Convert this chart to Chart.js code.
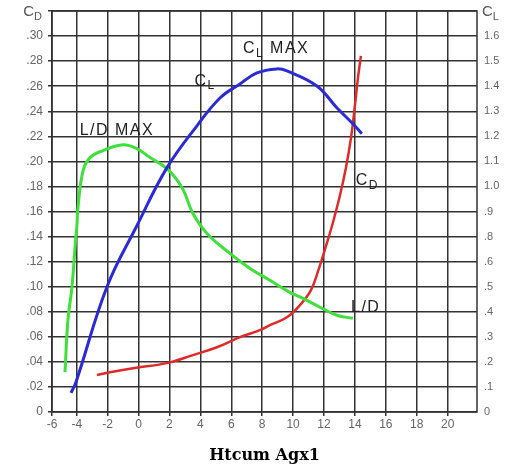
<!DOCTYPE html>
<html>
<head>
<meta charset="utf-8">
<script src="https://cdn.jsdelivr.net/npm/chart.js@4"></script>
<style>
html,body{margin:0;padding:0;background:#fff;}
#wrap{position:relative;width:505px;height:469px;}
</style>
</head>
<body>
<div id="wrap"><canvas id="c" width="505" height="469"></canvas></div>
<script>
// ---- Data ----
// angle of attack (degrees)
const X_MIN = -5.6, X_MAX = 21.9;
const X_TICK_VALUES = [-4,-2,0,2,4,6,8,10,12,14,16,18,20];
const X_TICK_LABELS = ['-6','-4','-2','0','2','4','6','8','10','12','14','16','18','20'];

// left axis (C_D)
const LEFT_TICK_LABELS = ['0','.02','.04','.06','.08','.10','.12','.14','.16','.18','.20','.22','.24','.26','.28','.30'];
// right axis (C_L) labels as printed (note: .7 is not printed)
const RIGHT_TICK_LABELS = ['0','.1','.2','.3','.4','.5','.6','.8','.9','1.0','1.1','1.2','1.3','1.4','1.5','1.6'];
const RIGHT_TICK_VALUES = [0,0.1,0.2,0.3,0.4,0.5,0.6,0.8,0.9,1.0,1.1,1.2,1.3,1.4,1.5,1.6];

// Lift coefficient curve (right axis)
const CL_ALPHA = [-4.37,-4.05,-2.04,-0.10,1.84,3.78,5.27,6.56,7.66,8.95,9.60,11.54,12.83,13.87,14.45];
const CL_VALUES = [0.076,0.119,0.500,0.844,1.075,1.242,1.353,1.409,1.453,1.469,1.461,1.401,1.314,1.250,1.210];

// Lift/Drag ratio curve (drawn against left grid)
const LD_ALPHA = [-4.76,-4.57,-4.31,-4.11,-3.98,-3.92,-3.59,-3.14,-2.30,-1.01,-0.10,0.74,1.84,2.81,3.52,4.43,5.91,7.21,8.50,9.79,10.64,11.74,12.83,13.87];
const LD_VALUES = [0.0318,0.0732,0.0995,0.1313,0.1504,0.1632,0.1926,0.2030,0.2086,0.2133,0.2101,0.2030,0.1942,0.1791,0.1584,0.1425,0.1266,0.1146,0.1051,0.0955,0.0907,0.0836,0.0772,0.0748];

// Drag coefficient curve (left axis)
const CD_ALPHA = [-2.69,-1.85,-0.36,1.84,3.52,5.07,6.56,7.85,8.50,9.60,10.44,11.15,11.61,12.12,12.58,13.03,13.42,13.74,14.00,14.19,14.39];
const CD_VALUES = [0.0295,0.0318,0.0350,0.0390,0.0454,0.0517,0.0597,0.0653,0.0693,0.0756,0.0852,0.0971,0.1122,0.1321,0.1512,0.1727,0.1950,0.2181,0.2444,0.2659,0.2842];

const X_TITLE = 'Htcum Agx1';

// ---- helpers ----
// right axis is laid out by printed label index; convert C_L value to that index
function clToIndex(v){
  for(let i=0;i<RIGHT_TICK_VALUES.length-1;i++){
    const a=RIGHT_TICK_VALUES[i], b=RIGHT_TICK_VALUES[i+1];
    if(v<=b){ return i+(v-a)/(b-a); }
  }
  const n=RIGHT_TICK_VALUES.length-1;
  return n+(v-RIGHT_TICK_VALUES[n])/0.1;
}
const pts=(xs,ys,f)=>xs.map((x,i)=>({x:x,y:f?f(ys[i]):ys[i]}));

const annotations = [
  {text:'C', sub:'L', tail:' MAX', x:8.9, y:0.2897},
  {text:'C', sub:'L', tail:'', x:4.3, y:0.2640},
  {text:'L/D MAX', x:-1.4, y:0.2245},
  {text:'C', sub:'D', tail:'', x:14.8, y:0.1847},
  {text:'L/D', x:14.7, y:0.0836}
];

function drawSubText(ctx, x, y, main, sub, tail, size, color, align, spacing){
  ctx.save();
  ctx.fillStyle=color;
  ctx.textBaseline='middle';
  if(spacing && 'letterSpacing' in ctx) ctx.letterSpacing=spacing+'px';
  const f1=size+'px "Liberation Sans", Arial, sans-serif';
  const f2=Math.round(size*0.72)+'px "Liberation Sans", Arial, sans-serif';
  ctx.font=f1; const w1=ctx.measureText(main).width;
  const wt=tail?ctx.measureText(tail).width:0;
  ctx.font=f2; const w2=sub?ctx.measureText(sub).width:0;
  const total=w1+w2+wt;
  let sx = align==='center'? x-total/2 : (align==='right'? x-total : x);
  ctx.textAlign='left';
  ctx.font=f1; ctx.fillText(main,sx,y);
  if(sub){ ctx.font=f2; ctx.fillText(sub,sx+w1,y+size*0.3); }
  if(tail){ ctx.font=f1; ctx.fillText(tail,sx+w1+w2,y); }
  ctx.restore();
}

const decor = {
  id:'decor',
  afterDraw(chart){
    const ctx=chart.ctx, a=chart.chartArea, xs=chart.scales.x, ys=chart.scales.y;
    ctx.save();
    ctx.strokeStyle='#333'; ctx.lineWidth=1.5;
    ctx.strokeRect(a.left,a.top,a.right-a.left,a.bottom-a.top);
    ctx.restore();
    // axis headers
    drawSubText(ctx, a.left-10, a.top+1, 'C','D','',15,'#555','right',0);
    drawSubText(ctx, a.right+5, a.top+1, 'C','L','',15,'#555','left',0);
    annotations.forEach(n=>{
      const px=xs.getPixelForValue(n.x), py=ys.getPixelForValue(n.y);
      drawSubText(ctx, px, py, n.text, n.sub||'', n.tail||'', 16, '#222', 'center', 1.5);
    });
  }
};

const ctx=document.getElementById('c').getContext('2d');
new Chart(ctx,{
  type:'scatter',
  data:{datasets:[
    {label:'CL', data:pts(CL_ALPHA,CL_VALUES,clToIndex), yAxisID:'y2', showLine:true, borderColor:'#2a2ad6', borderWidth:3, pointRadius:0, tension:0.4, fill:false},
    {label:'L/D', data:pts(LD_ALPHA,LD_VALUES), yAxisID:'y', showLine:true, borderColor:'#3ee03a', borderWidth:3, pointRadius:0, tension:0.4, fill:false},
    {label:'CD', data:pts(CD_ALPHA,CD_VALUES), yAxisID:'y', showLine:true, borderColor:'#e02a2a', borderWidth:2.5, pointRadius:0, tension:0.4, fill:false}
  ]},
  options:{
    responsive:false, animation:false,
    layout:{padding:{top:11,left:0,right:0,bottom:0}},
    plugins:{legend:{display:false}, tooltip:{enabled:false}},
    scales:{
      x:{type:'linear', min:X_MIN, max:X_MAX,
        afterBuildTicks(s){ s.ticks=[{value:X_MIN}].concat(X_TICK_VALUES.map(v=>({value:v}))); },
        ticks:{color:'#666', font:{size:12, family:'"Liberation Sans", Arial, sans-serif'}, padding:1, maxRotation:0, autoSkip:false,
          callback:(v,i)=>X_TICK_LABELS[i]},
        grid:{color:'#333', lineWidth:1.5, tickLength:4, tickColor:'#333'},
        border:{display:false},
        title:{display:true, text:X_TITLE, color:'#000', font:{size:16, weight:'bold', family:'"DejaVu Serif", "Liberation Serif", serif'}, padding:{top:9}},
        afterFit(s){ s.height=57; s.paddingLeft=0; s.paddingRight=0; }
      },
      y:{type:'linear', position:'left', min:0, max:0.32,
        afterBuildTicks(s){ const t=[]; for(let i=0;i<=16;i++) t.push({value:i*0.02}); s.ticks=t; },
        ticks:{color:'#666', font:{size:12, family:'"Liberation Sans", Arial, sans-serif'}, padding:5, autoSkip:false,
          callback:(v,i)=> i<LEFT_TICK_LABELS.length? LEFT_TICK_LABELS[i] : ''},
        grid:{color:'#333', lineWidth:1.5, tickLength:4, tickColor:'#333'},
        border:{display:false},
        afterFit(s){ s.width=52; s.paddingTop=0; s.paddingBottom=0; }
      },
      y2:{type:'linear', position:'right', min:0, max:16,
        afterBuildTicks(s){ const t=[]; for(let i=0;i<=16;i++) t.push({value:i}); s.ticks=t; },
        ticks:{color:'#666', font:{size:11, family:'"Liberation Sans", Arial, sans-serif'}, padding:7, autoSkip:false,
          callback:(v,i)=> i<RIGHT_TICK_LABELS.length? RIGHT_TICK_LABELS[i] : ''},
        grid:{display:false, drawOnChartArea:false, tickLength:0},
        border:{display:false},
        afterFit(s){ s.width=28; s.paddingTop=0; s.paddingBottom=0; }
      }
    }
  },
  plugins:[decor]
});
</script>
</body>
</html>
